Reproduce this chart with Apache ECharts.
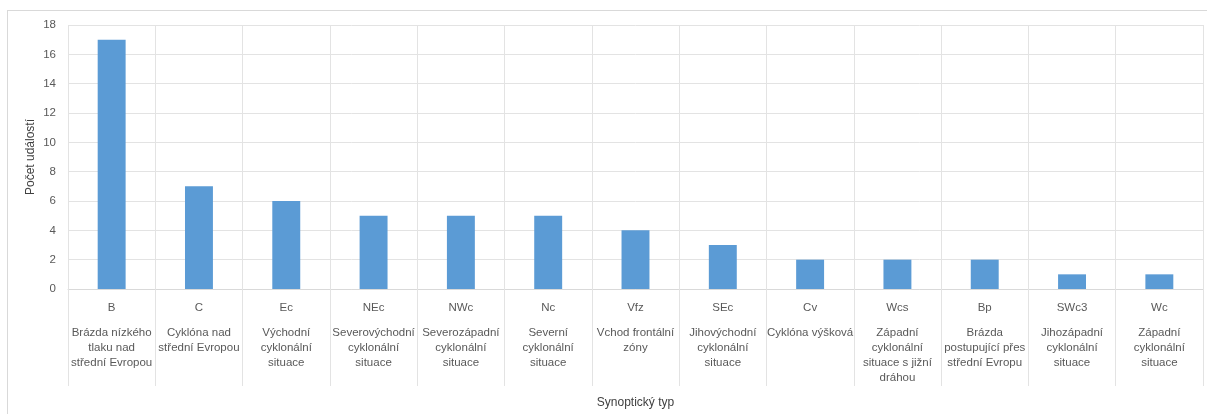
<!DOCTYPE html>
<html>
<head>
<meta charset="utf-8">
<script src="https://cdn.jsdelivr.net/npm/echarts@6/dist/echarts.min.js"></script>
<style>
  html, body { margin: 0; padding: 0; background: #fff; }
  #frame { position: absolute; left: 7px; top: 10px; width: 1210px; height: 420px; border: 1px solid #d9d9d9; box-sizing: border-box; }
  #chart { position: absolute; left: 0; top: 0; width: 1207px; height: 414px; }
</style>
</head>
<body>
<div id="frame"></div>
<div id="chart"></div>
<script>
// Synoptic type codes
const codes = ['B', 'C', 'Ec', 'NEc', 'NWc', 'Nc', 'Vfz', 'SEc', 'Cv', 'Wcs', 'Bp', 'SWc3', 'Wc'];
// Full names of the synoptic types (wrapped)
const names = [
  'Brázda nízkého\ntlaku nad\nstřední Evropou',
  'Cyklóna nad\nstřední Evropou',
  'Východní\ncyklonální\nsituace',
  'Severovýchodní\ncyklonální\nsituace',
  'Severozápadní\ncyklonální\nsituace',
  'Severní\ncyklonální\nsituace',
  'Vchod frontální\nzóny',
  'Jihovýchodní\ncyklonální\nsituace',
  'Cyklóna výšková',
  'Západní\ncyklonální\nsituace s jižní\ndráhou',
  'Brázda\npostupující přes\nstřední Evropu',
  'Jihozápadní\ncyklonální\nsituace',
  'Západní\ncyklonální\nsituace'
];
// Number of events per type
const counts = [17, 7, 6, 5, 5, 5, 4, 3, 2, 2, 2, 1, 1];

const FONT = 'Liberation Sans';
const TEXT = '#595959';
const GRID = '#e3e3e3';

const chart = echarts.init(document.getElementById('chart'));
chart.setOption({
  animation: false,
  grid: { left: 68, right: 4, top: 25, bottom: 125, containLabel: false },
  // y-axis title, placed by hand so it sits close to the tick labels
  graphic: [
    {
      type: 'text',
      x: 31,
      y: 157,
      rotation: Math.PI / 2,
      style: {
        text: 'Počet událostí',
        fill: '#404040',
        font: '12px "Liberation Sans"',
        align: 'center',
        verticalAlign: 'middle'
      }
    }
  ],
  xAxis: [
    {
      type: 'category',
      data: codes,
      position: 'bottom',
      axisLine: { show: true, lineStyle: { color: '#d9d9d9', width: 1 } },
      axisTick: { show: true, interval: 0, length: 97, lineStyle: { color: GRID } },
      splitLine: { show: true, interval: 0, lineStyle: { color: GRID } },
      axisLabel: { interval: 0, margin: 11, color: TEXT, fontFamily: FONT, fontSize: 11.5, lineHeight: 15 }
    },
    {
      type: 'category',
      data: names,
      position: 'bottom',
      axisLine: { show: false },
      axisTick: { show: false },
      splitLine: { show: false },
      axisLabel: { interval: 0, margin: 36, color: TEXT, fontFamily: FONT, fontSize: 11.5, lineHeight: 15, verticalAlign: 'top' },
      name: 'Synoptický typ',
      nameLocation: 'middle',
      nameGap: 108,
      nameTextStyle: { color: '#404040', fontFamily: FONT, fontSize: 12 }
    }
  ],
  yAxis: {
    type: 'value',
    min: 0,
    max: 18,
    interval: 2,
    axisLine: { show: false },
    axisTick: { show: false },
    splitLine: { show: true, lineStyle: { color: GRID } },
    axisLabel: { color: TEXT, fontFamily: FONT, fontSize: 11.5, margin: 12 }
  },
  series: [
    {
      type: 'bar',
      xAxisIndex: 0,
      data: counts,
      barWidth: '32%',
      itemStyle: { color: '#5b9bd5' }
    }
  ]
});
</script>
</body>
</html>
